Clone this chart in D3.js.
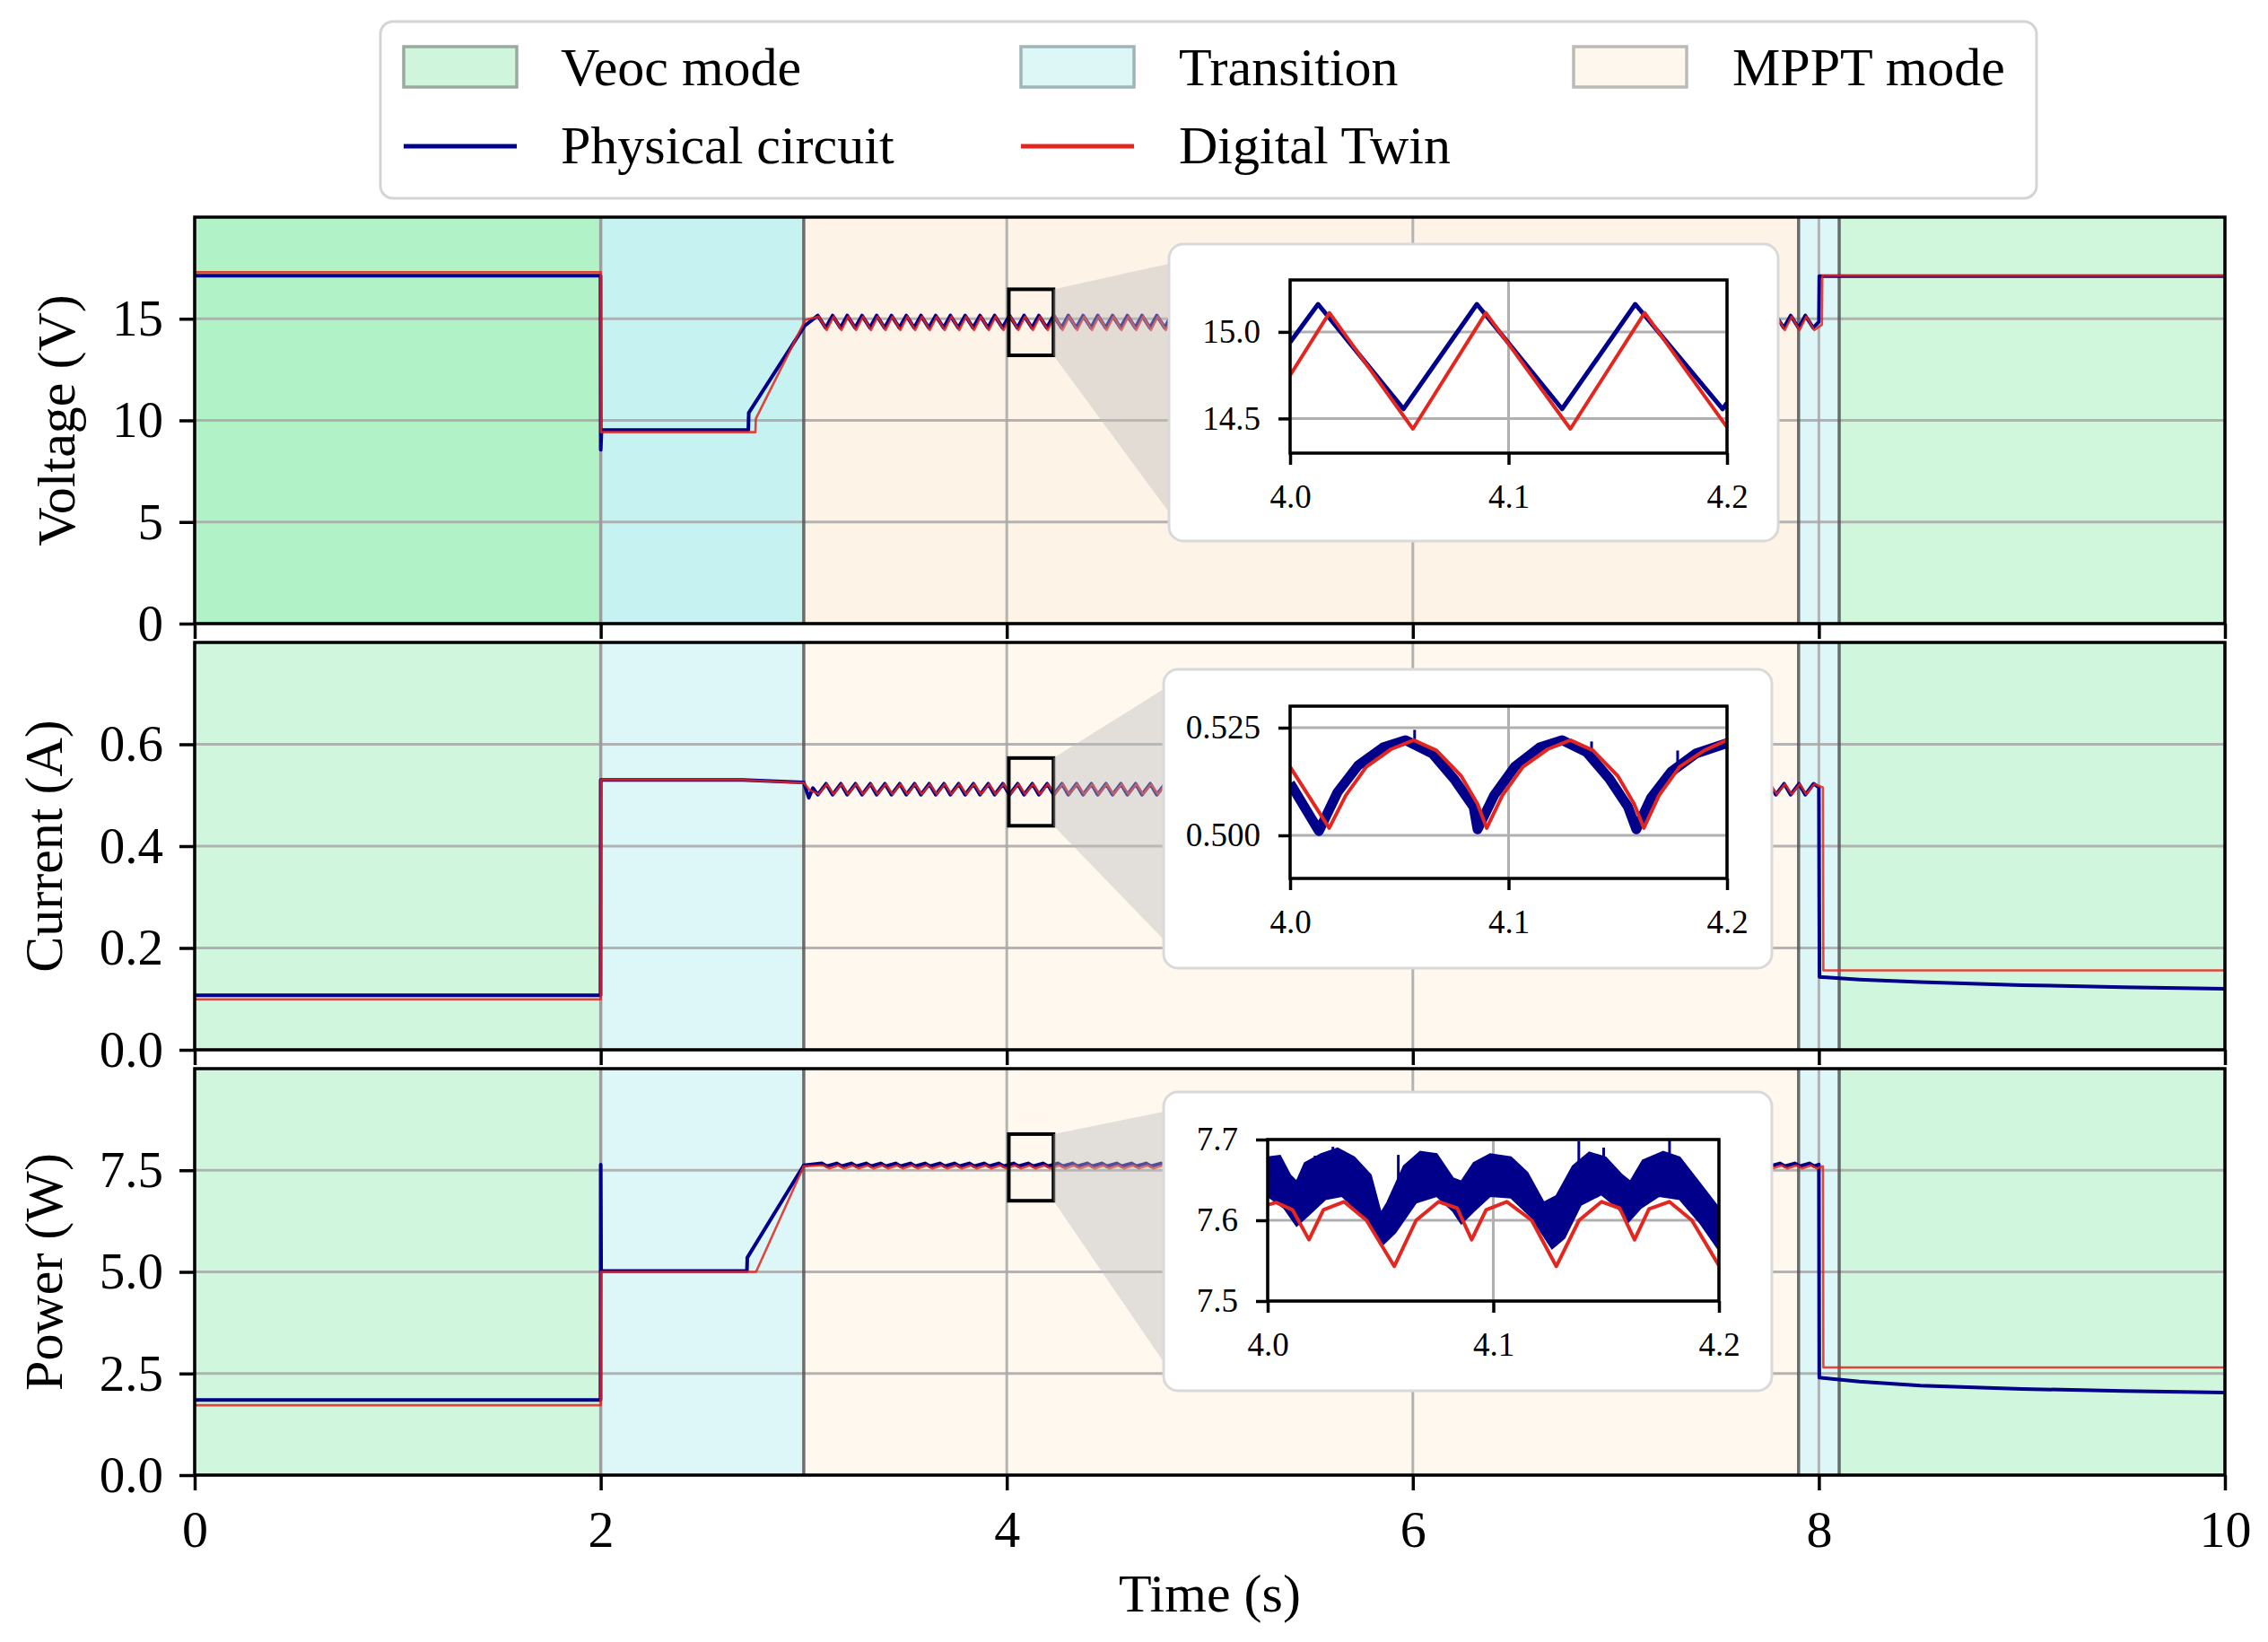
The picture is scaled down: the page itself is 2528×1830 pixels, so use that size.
<!DOCTYPE html>
<html>
<head>
<meta charset="utf-8">
<script src="https://cdn.jsdelivr.net/npm/d3@7"></script>
<style>
  body { margin: 0; background: #fff; }
</style>
</head>
<body>
<svg id="chart" width="2528" height="1830"></svg>
<script>
// ---------------- data ----------------
const timeTicks = [0, 2, 4, 6, 8, 10];

// operating modes over time: [mode, start, end]
const modeSpans = [["veoc", 0, 2], ["trans", 2, 3], ["mppt", 3, 7.9], ["trans", 7.9, 8.1], ["veoc", 8.1, 10]];
const modeLegend = [["veoc", "Veoc mode"], ["trans", "Transition"], ["mppt", "MPPT mode"]];
const seriesLegend = [["phys", "Physical circuit"], ["twin", "Digital Twin"]];

// times of the MPPT ripple peaks (voltage, physical circuit)
const ripplePeaks = [3.069, 3.142, 3.214, 3.287, 3.359, 3.432, 3.505, 3.577, 3.650, 3.722, 3.795, 3.868,
  3.940, 4.013, 4.085, 4.158, 4.231, 4.303, 4.376, 4.448, 4.521, 4.594, 4.666, 4.739, 4.811, 4.884,
  4.957, 5.029, 5.102, 5.174, 5.247, 5.320, 5.392, 5.465, 5.537, 5.610, 5.683, 5.755, 5.828, 5.900,
  5.973, 6.046, 6.118, 6.191, 6.263, 6.336, 6.409, 6.481, 6.554, 6.626, 6.699, 6.772, 6.844, 6.917,
  6.989, 7.062, 7.135, 7.207, 7.280, 7.352, 7.425, 7.498, 7.570, 7.643, 7.715, 7.788, 7.861, 7.933];

// voltage (V): [t, value]; ripple = [offset from peak time, value] per cycle
const voltPhysStart = [[0, 17.12], [1.999, 17.12], [2.0, 8.55], [2.004, 9.53], [2.727, 9.53], [2.729, 10.37], [3.005, 14.66]];
const voltPhysRipple = [[0, 15.16], [0.039, 14.555]];
const voltPhysEnd = [[8.0, 14.85], [8.002, 17.1], [10, 17.1]];
const voltTwinStart = [[0, 17.29], [2.0, 17.29], [2.001, 9.42], [2.762, 9.42], [2.764, 10.08], [3.008, 14.94]];
const voltTwinRipple = [[0.005, 15.11], [0.044, 14.44]];
const voltTwinEnd = [[8.015, 14.7], [8.017, 17.12], [10, 17.12]];

// current (A)
const currPhysStart = [[0, 0.107], [1.999, 0.107], [2.0, 0.53], [2.7, 0.53], [3.0, 0.525], [3.025, 0.495], [3.045, 0.514]];
const currPhysRipple = [[0, 0.501], [0.041, 0.5225]];
const currPhysEnd = [[8.0, 0.515], [8.003, 0.143], [8.2, 0.138], [8.5, 0.133], [9.0, 0.127], [9.5, 0.123], [10, 0.120]];
const currTwinStart = [[0, 0.099], [2.0, 0.099], [2.001, 0.53], [2.7, 0.53], [3.0, 0.524], [3.03, 0.51]];
const currTwinRipple = [[0.005, 0.502], [0.045, 0.522]];
const currTwinEnd = [[8.02, 0.515], [8.022, 0.156], [10, 0.156]];

// power (W)
const powPhysStart = [[0, 1.85], [1.999, 1.85], [2.0, 7.64], [2.002, 5.02], [2.72, 5.02], [2.722, 5.35], [3.0, 7.62]];
const powPhysRipple = [[0.02, 7.67], [0.045, 7.60]];
const powPhysEnd = [[8.0, 7.64], [8.002, 2.40], [8.2, 2.30], [8.5, 2.20], [9.0, 2.12], [9.5, 2.07], [10, 2.03]];
const powTwinStart = [[0, 1.72], [2.0, 1.72], [2.001, 5.0], [2.765, 5.0], [3.0, 7.6]];
const powTwinRipple = [[0.03, 7.62], [0.056, 7.545]];
const powTwinEnd = [[8.02, 7.6], [8.022, 2.65], [10, 2.65]];

// zoomed windows 4.0 - 4.2 s
const insetTicksX = [4.0, 4.1, 4.2];
const voltInsetPhys = [[4.0, 14.94], [4.0128, 15.16], [4.0519, 14.555], [4.0855, 15.16], [4.1245, 14.555], [4.158, 15.16], [4.198, 14.555], [4.2, 14.59]];
const voltInsetTwin = [[4.0, 14.75], [4.018, 15.11], [4.0562, 14.44], [4.0896, 15.11], [4.1283, 14.44], [4.1623, 15.11], [4.2, 14.45]];

const currInsetPhys = [[4.0, 0.5121], [4.0132, 0.5010], [4.0217, 0.5100], [4.0311, 0.5162], [4.0425, 0.5204], [4.0528, 0.5221],
  [4.0651, 0.5190], [4.0755, 0.5128], [4.084, 0.5066], [4.0858, 0.5014], [4.0934, 0.5093], [4.1028, 0.5159], [4.1142, 0.5204],
  [4.1245, 0.5221], [4.1358, 0.5193], [4.1462, 0.5131], [4.1547, 0.5066], [4.1585, 0.5014], [4.1651, 0.5086], [4.1745, 0.5148],
  [4.1858, 0.5190], [4.2, 0.5214]];
const currInsetSpikes = [[4.057, 0.521, 0.5245], [4.138, 0.519, 0.5218], [4.1774, 0.515, 0.5197]];
const currInsetTwin = [[4.0, 0.5159], [4.0179, 0.5017], [4.0255, 0.5093], [4.0349, 0.5159], [4.0462, 0.5200], [4.0566, 0.5221],
  [4.067, 0.5197], [4.0783, 0.5138], [4.0858, 0.5073], [4.09, 0.5017], [4.0972, 0.5093], [4.1066, 0.5159], [4.1179, 0.5200],
  [4.1283, 0.5221], [4.1387, 0.5197], [4.15, 0.5138], [4.1575, 0.5073], [4.1619, 0.5017], [4.1689, 0.5093], [4.1783, 0.5159],
  [4.1896, 0.5197], [4.2, 0.5221]];

const powInsetPhysUpper = [[4.0, 7.678], [4.0055, 7.680], [4.01, 7.656], [4.0128, 7.648], [4.0164, 7.671], [4.0237, 7.682],
  [4.031, 7.689], [4.0384, 7.678], [4.0457, 7.656], [4.0502, 7.609], [4.053, 7.622], [4.0603, 7.667], [4.0676, 7.685],
  [4.0749, 7.682], [4.0822, 7.652], [4.0858, 7.648], [4.0913, 7.671], [4.0986, 7.682], [4.1078, 7.678], [4.1151, 7.659],
  [4.1224, 7.622], [4.1279, 7.630], [4.1352, 7.667], [4.1425, 7.684], [4.1498, 7.678], [4.1571, 7.656], [4.1607, 7.648],
  [4.1662, 7.674], [4.1753, 7.685], [4.1826, 7.678], [4.1918, 7.645], [4.2, 7.615]];
const powInsetPhysLower = [[4.0, 7.630], [4.0073, 7.615], [4.0128, 7.593], [4.0183, 7.607], [4.0256, 7.626], [4.0329, 7.630],
  [4.042, 7.607], [4.0511, 7.570], [4.0566, 7.585], [4.0658, 7.622], [4.0749, 7.630], [4.0822, 7.611], [4.0858, 7.596],
  [4.0913, 7.611], [4.0986, 7.630], [4.1078, 7.628], [4.1169, 7.604], [4.126, 7.565], [4.1315, 7.578], [4.1388, 7.619],
  [4.1479, 7.632], [4.1553, 7.615], [4.1598, 7.598], [4.1653, 7.615], [4.1735, 7.630], [4.1826, 7.626], [4.1918, 7.596],
  [4.2, 7.563]];
const powInsetSpikes = [[4.021, 7.66, 7.68], [4.0289, 7.68, 7.691], [4.0579, 7.64, 7.681], [4.1379, 7.66, 7.698], [4.1489, 7.675, 7.69], [4.1781, 7.68, 7.702]];
const powInsetTwin = [[4.0, 7.619], [4.0037, 7.622], [4.011, 7.613], [4.0183, 7.576], [4.0247, 7.613], [4.0338, 7.623],
  [4.0438, 7.600], [4.0561, 7.543], [4.0658, 7.600], [4.0758, 7.623], [4.084, 7.615], [4.0904, 7.576], [4.0968, 7.613],
  [4.106, 7.623], [4.117, 7.600], [4.1279, 7.543], [4.138, 7.600], [4.148, 7.623], [4.156, 7.615], [4.1626, 7.576],
  [4.169, 7.614], [4.178, 7.623], [4.188, 7.600], [4.2, 7.544]];

// ---------------- helpers ----------------
function withRipple(start, ripple, end) {
  const t0 = start[start.length - 1][0], t1 = end[0][0];
  const pts = start.slice();
  ripplePeaks.forEach(p => ripple.forEach(([dt, v]) => {
    const t = p + dt;
    if (t > t0 && t < t1) pts.push([t, v]);
  }));
  return pts.concat(end);
}

const FONT = "'Liberation Serif', 'Times New Roman', serif";
const BLUE = "#00008b";
const RED = "#e3261f";

const spanFill = { veoc: "#d0f7dd", trans: "#ddf7f8", mppt: "#fef8ef" };
const topSpanFill = ["#b1f3c6", "#c6f2f2", "#fdf3e6", "#ddf6f8", "#d0f7dc"];
const legendFill = { veoc: "#cff5dc", trans: "#ddf6f6", mppt: "#fdf7ee" };
const legendEdge = { veoc: "#9aaa9f", trans: "#a0b5b7", mppt: "#bdbab5" };
const seriesColor = { phys: BLUE, twin: RED };

const panels = [
  {
    label: "Voltage (V)", domain: [0, 20], ticks: [0, 5, 10, 15], fmt: d3.format("d"),
    top: 242, bottom: 695, labelX: 83,
    phys: withRipple(voltPhysStart, voltPhysRipple, voltPhysEnd),
    twin: withRipple(voltTwinStart, voltTwinRipple, voltTwinEnd),
    zoomBox: [4.01, 4.23, 13.2, 16.45],
    inset: {
      box: [1303, 272, 1982, 603], axes: [1438, 312, 1925, 505],
      domain: [14.3, 15.3], ticks: [14.5, 15.0], fmt: d3.format(".1f"),
      phys: voltInsetPhys, physWidth: 5, twin: voltInsetTwin
    }
  },
  {
    label: "Current (A)", domain: [0, 0.8], ticks: [0, 0.2, 0.4, 0.6], fmt: d3.format(".1f"),
    top: 716, bottom: 1170, labelX: 69,
    phys: withRipple(currPhysStart, currPhysRipple, currPhysEnd),
    twin: withRipple(currTwinStart, currTwinRipple, currTwinEnd),
    zoomBox: [4.01, 4.23, 0.44, 0.573],
    inset: {
      box: [1297, 746, 1975, 1079], axes: [1438, 787, 1925, 979],
      domain: [0.49, 0.53], ticks: [0.5, 0.525], fmt: d3.format(".3f"),
      phys: currInsetPhys, physWidth: 11, spikes: currInsetSpikes, twin: currInsetTwin
    }
  },
  {
    label: "Power (W)", domain: [0, 10], ticks: [0, 2.5, 5, 7.5], fmt: d3.format(".1f"),
    top: 1191, bottom: 1644, labelX: 69,
    phys: withRipple(powPhysStart, powPhysRipple, powPhysEnd),
    twin: withRipple(powTwinStart, powTwinRipple, powTwinEnd),
    zoomBox: [4.01, 4.23, 6.75, 8.39],
    inset: {
      box: [1297, 1217, 1975, 1550], axes: [1413, 1270, 1916, 1450],
      domain: [7.5, 7.7], ticks: [7.5, 7.6, 7.7], fmt: d3.format(".1f"),
      band: [powInsetPhysUpper, powInsetPhysLower], spikes: powInsetSpikes, twin: powInsetTwin
    }
  }
];

// ---------------- drawing ----------------
const svg = d3.select("#chart");
const plotL = 217, plotR = 2480;
const x = d3.scaleLinear().domain([0, 10]).range([plotL, plotR]);

function styleAxis(a, size) {
  a.select(".domain").remove();
  a.attr("font-family", FONT).attr("font-size", size);
  a.selectAll(".tick line").attr("stroke", "#000").attr("stroke-width", 3.5);
  a.selectAll(".tick text").attr("fill", "#000");
}

function drawInset(g, spec, id) {
  const [bx0, by0, bx1, by1] = spec.box;
  g.append("rect")
    .attr("x", bx0).attr("y", by0).attr("width", bx1 - bx0).attr("height", by1 - by0)
    .attr("rx", 16).attr("fill", "#fff").attr("stroke", "#d9d9d9").attr("stroke-width", 3);

  const [ax0, ay0, ax1, ay1] = spec.axes;
  const ix = d3.scaleLinear().domain([4.0, 4.2]).range([ax0, ax1]);
  const iy = d3.scaleLinear().domain(spec.domain).range([ay1, ay0]);

  // grid
  g.selectAll(null).data(insetTicksX).enter().append("line")
    .attr("x1", d => ix(d)).attr("x2", d => ix(d)).attr("y1", ay0).attr("y2", ay1)
    .attr("stroke", "#b0b0b0").attr("stroke-width", 3);
  g.selectAll(null).data(spec.ticks).enter().append("line")
    .attr("x1", ax0).attr("x2", ax1).attr("y1", d => iy(d)).attr("y2", d => iy(d))
    .attr("stroke", "#b0b0b0").attr("stroke-width", 3);

  svg.append("clipPath").attr("id", id).append("rect")
    .attr("x", ax0).attr("y", ay0).attr("width", ax1 - ax0).attr("height", ay1 - ay0);
  const lg = g.append("g").attr("clip-path", `url(#${id})`);
  const line = d3.line().x(d => ix(d[0])).y(d => iy(d[1]));

  if (spec.band) {
    const poly = spec.band[0].concat(spec.band[1].slice().reverse());
    lg.append("path").attr("d", line(poly) + "Z")
      .attr("fill", BLUE).attr("stroke", BLUE).attr("stroke-width", 2);
  }
  if (spec.phys) {
    lg.append("path").attr("d", line(spec.phys)).attr("fill", "none")
      .attr("stroke", BLUE).attr("stroke-width", spec.physWidth).attr("stroke-linejoin", "round");
  }
  if (spec.spikes) {
    lg.selectAll(null).data(spec.spikes).enter().append("line")
      .attr("x1", d => ix(d[0])).attr("x2", d => ix(d[0]))
      .attr("y1", d => iy(d[1])).attr("y2", d => iy(d[2]))
      .attr("stroke", BLUE).attr("stroke-width", 3);
  }
  lg.append("path").attr("d", line(spec.twin)).attr("fill", "none")
    .attr("stroke", RED).attr("stroke-width", 4).attr("stroke-linejoin", "round");

  g.append("rect").attr("x", ax0).attr("y", ay0).attr("width", ax1 - ax0).attr("height", ay1 - ay0)
    .attr("fill", "none").attr("stroke", "#000").attr("stroke-width", 3.5);

  const xa = g.append("g").attr("transform", `translate(0,${ay1})`)
    .call(d3.axisBottom(ix).tickValues(insetTicksX).tickFormat(d3.format(".1f")).tickSize(13).tickPadding(22));
  styleAxis(xa, 37);
  const ya = g.append("g").attr("transform", `translate(${ax0},0)`)
    .call(d3.axisLeft(iy).tickValues(spec.ticks).tickFormat(spec.fmt).tickSize(13).tickPadding(20));
  styleAxis(ya, 37);
}

panels.forEach((p, i) => {
  const y = d3.scaleLinear().domain(p.domain).range([p.bottom, p.top]);
  const g = svg.append("g");

  // mode backgrounds
  g.selectAll(null).data(modeSpans).enter().append("rect")
    .attr("x", d => x(d[1])).attr("width", d => x(d[2]) - x(d[1]))
    .attr("y", p.top).attr("height", p.bottom - p.top)
    .attr("fill", (d, j) => i === 0 ? topSpanFill[j] : spanFill[d[0]]);

  // grid
  g.selectAll(null).data(timeTicks).enter().append("line")
    .attr("x1", d => x(d)).attr("x2", d => x(d)).attr("y1", p.top).attr("y2", p.bottom)
    .attr("stroke", "#a8a8a8").attr("stroke-width", 3).attr("opacity", 0.85);
  g.selectAll(null).data(p.ticks).enter().append("line")
    .attr("x1", plotL).attr("x2", plotR).attr("y1", d => y(d)).attr("y2", d => y(d))
    .attr("stroke", "#a8a8a8").attr("stroke-width", 3).attr("opacity", 0.85);

  // mode boundaries
  g.selectAll(null).data(modeSpans.slice(1)).enter().append("line")
    .attr("x1", d => x(d[1])).attr("x2", d => x(d[1])).attr("y1", p.top).attr("y2", p.bottom)
    .attr("stroke", d => d[1] === 2 ? "#9a9a9a" : "#555").attr("stroke-width", 3.5).attr("opacity", 0.85);

  // traces
  const clipId = "clip" + i;
  svg.append("clipPath").attr("id", clipId).append("rect")
    .attr("x", plotL).attr("y", p.top).attr("width", plotR - plotL).attr("height", p.bottom - p.top);
  const lg = g.append("g").attr("clip-path", `url(#${clipId})`);
  const line = d3.line().x(d => x(d[0])).y(d => y(d[1]));
  lg.append("path").attr("d", line(p.phys)).attr("fill", "none")
    .attr("stroke", BLUE).attr("stroke-width", 4).attr("stroke-linejoin", "round");
  lg.append("path").attr("d", line(p.twin)).attr("fill", "none")
    .attr("stroke", RED).attr("stroke-width", 2.6).attr("opacity", 0.85).attr("stroke-linejoin", "round");

  // zoom marker
  const [zt0, zt1, zv0, zv1] = p.zoomBox;
  g.append("rect").attr("x", x(zt0)).attr("y", y(zv1)).attr("width", x(zt1) - x(zt0)).attr("height", y(zv0) - y(zv1))
    .attr("fill", "none").attr("stroke", "#000").attr("stroke-width", 4);

  // connector wedge to the inset
  const b = p.inset.box;
  const wedge = [[x(zt1), y(zv1)], [b[0], b[1] + 22], [b[0], b[3] - 32], [x(zt1), y(zv0)]];
  g.append("path").attr("d", d3.line()(wedge) + "Z")
    .attr("fill", "#bdbdbd").attr("opacity", 0.42);

  drawInset(g, p.inset, "iclip" + i);

  // frame
  g.append("rect").attr("x", plotL).attr("y", p.top).attr("width", plotR - plotL).attr("height", p.bottom - p.top)
    .attr("fill", "none").attr("stroke", "#000").attr("stroke-width", 3.5);

  // axes
  const ya = g.append("g").attr("transform", `translate(${plotL},0)`)
    .call(d3.axisLeft(y).tickValues(p.ticks).tickFormat(p.fmt).tickSize(17).tickPadding(18));
  styleAxis(ya, 57);
  const xa = g.append("g").attr("transform", `translate(0,${p.bottom})`)
    .call(d3.axisBottom(x).tickValues(timeTicks).tickSize(17).tickPadding(22)
      .tickFormat(i === panels.length - 1 ? d3.format("d") : ""));
  styleAxis(xa, 58);

  // y label
  const cy = (p.top + p.bottom) / 2;
  g.append("text").attr("transform", `translate(${p.labelX},${cy}) rotate(-90)`)
    .attr("text-anchor", "middle").attr("font-family", FONT).attr("font-size", 60)
    .text(p.label);
});

// x label
svg.append("text").attr("x", (plotL + plotR) / 2).attr("y", 1796)
  .attr("text-anchor", "middle").attr("font-family", FONT).attr("font-size", 60)
  .text("Time (s)");

// ---------------- legend ----------------
const lgd = svg.append("g");
lgd.append("rect").attr("x", 424).attr("y", 24).attr("width", 1846).attr("height", 197)
  .attr("rx", 14).attr("fill", "#fff").attr("stroke", "#d4d4d4").attr("stroke-width", 3);
const colX = [450, 1138, 1754];
const textX = [625, 1314, 1931];

lgd.selectAll(null).data(modeLegend).enter().append("rect")
  .attr("x", (d, j) => colX[j]).attr("y", 52).attr("width", 126).attr("height", 45)
  .attr("fill", d => legendFill[d[0]]).attr("stroke", d => legendEdge[d[0]]).attr("stroke-width", 3.5);
lgd.selectAll(null).data(modeLegend).enter().append("text")
  .attr("x", (d, j) => textX[j]).attr("y", 95)
  .attr("font-family", FONT).attr("font-size", 60).text(d => d[1]);

lgd.selectAll(null).data(seriesLegend).enter().append("line")
  .attr("x1", (d, j) => colX[j]).attr("x2", (d, j) => colX[j] + 126).attr("y1", 163).attr("y2", 163)
  .attr("stroke", d => seriesColor[d[0]]).attr("stroke-width", 5);
lgd.selectAll(null).data(seriesLegend).enter().append("text")
  .attr("x", (d, j) => textX[j]).attr("y", 182)
  .attr("font-family", FONT).attr("font-size", 60).text(d => d[1]);
</script>
</body>
</html>
